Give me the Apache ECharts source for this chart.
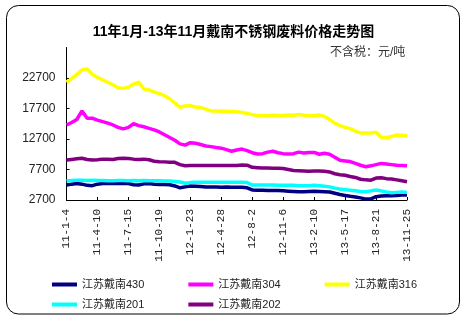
<!DOCTYPE html>
<html>
<head>
<meta charset="utf-8">
<script src="https://cdn.jsdelivr.net/npm/echarts@6/dist/echarts.min.js"></script>
<style>html,body{margin:0;padding:0;background:#fff}#c{width:467px;height:322px}</style>
</head>
<body>
<div id="c"></div>
<script>
// Category axis: one sample every 16 days from 2011-01-04 to 2013-11-25
var startDate = [2011, 0, 4];
var stepDays = 16;
var pointCount = 67;
var tickLabels = ['11-1-4','11-4-10','11-7-15','11-10-19','12-1-23','12-4-28','12-8-2','12-11-6','13-2-10','13-5-17','13-8-21','13-11-25'];

var seriesNames = ['江苏戴南430','江苏戴南304','江苏戴南316','江苏戴南201','江苏戴南202'];

var s430 = [5150,5300,5400,5300,5100,5050,5300,5400,5450,5400,5400,5450,5400,5200,5150,5350,5400,5300,5250,5250,
  5200,5000,4700,4850,5000,4950,4900,4850,4850,4850,4800,4850,4800,4800,4800,4700,4350,4300,4300,4250,
  4250,4250,4200,4150,4100,4050,4050,4100,4150,4100,4050,4000,3800,3600,3450,3300,3200,3050,2850,2900,
  3250,3350,3400,3400,3450,3500,3500];
var s304 = [15000,15400,15900,17300,16100,16100,15800,15550,15300,15000,14600,14350,14600,15200,14900,14700,14450,14200,13850,13400,
  12950,12500,11900,11700,12100,12000,11800,11550,11450,11300,11200,10950,10700,10900,11050,10800,10450,10250,10300,10550,
  10700,10450,10300,10250,10300,10550,10400,10500,10500,10200,10350,10200,9700,9200,9100,9000,8700,8400,8150,8300,
  8500,8700,8600,8500,8400,8350,8300];
var s316 = [22000,22600,23300,24000,24200,23300,22800,22400,22000,21600,21100,21000,21200,21700,22000,20900,20750,20400,20150,19800,
  19300,18600,17900,18100,18150,17950,17850,17600,17300,17300,17250,17250,17200,17150,17050,16900,16700,16550,16550,16500,
  16600,16550,16550,16650,16600,16700,16600,16550,16500,16650,16400,15900,15300,14900,14600,14400,14000,13700,13700,13700,
  13800,13000,12900,13100,13350,13300,13250];
var s201 = [5800,5900,5950,5950,5900,5950,5900,5900,5850,5850,5900,5900,5850,5900,5850,5900,5850,5850,5850,5800,
  5800,5750,5650,5450,5550,5600,5600,5600,5600,5600,5600,5600,5600,5600,5600,5550,5150,5150,5150,5150,
  5150,5100,5100,5100,5100,5050,5050,5050,5100,5050,4950,4850,4650,4500,4400,4300,4200,4100,4050,4200,
  4350,4200,4000,3900,3950,4000,3950];
var s202 = [9250,9350,9450,9550,9350,9250,9300,9400,9400,9350,9500,9550,9500,9400,9350,9400,9300,9050,8980,8950,
  8900,8880,8500,8320,8350,8350,8350,8350,8350,8350,8350,8350,8350,8350,8420,8400,8050,8000,7950,7950,
  7900,7900,7850,7700,7550,7500,7450,7400,7450,7450,7400,7300,7000,6850,6750,6550,6400,6100,6000,5950,
  6300,6350,6200,6150,6000,5850,5700];

var colors = ['#000080','#FF00FF','#FFFF00','#00FFFF','#800080'];

var categories = [];
for (var i = 0; i < pointCount; i++) {
  var d = new Date(Date.UTC(startDate[0], startDate[1], startDate[2] + i * stepDays));
  categories.push((d.getUTCFullYear() % 100) + '-' + (d.getUTCMonth() + 1) + '-' + d.getUTCDate());
}

var FONT = '"Liberation Sans", "Noto Sans CJK SC", sans-serif';
var dataSets = [s430, s304, s316, s201, s202];

var chart = echarts.init(document.getElementById('c'), null, {renderer: 'canvas'});
chart.setOption({
  animation: false,
  backgroundColor: '#fff',
  textStyle: {fontFamily: FONT},
  title: {
    text: '11年1月-13年11月戴南不锈钢废料价格走势图',
    left: 'center', top: 20,
    textStyle: {fontSize: 14, fontWeight: 'bold', color: '#000', fontFamily: FONT}
  },
  graphic: [
    {type: 'rect', shape: {x: 6.5, y: 5.5, width: 453, height: 308.5, r: 12}, style: {fill: 'none', stroke: '#000', lineWidth: 1}, z: -1},
    {type: 'text', left: 330, top: 47, style: {text: '不含税：元/吨', fontSize: 12, fill: '#333', fontFamily: FONT}}
  ],
  legend: [
    {data: seriesNames.slice(0, 3), left: 47, top: 274, itemWidth: 25, itemHeight: 4, itemGap: 44, icon: 'rect',
     textStyle: {fontSize: 11, color: '#222', fontFamily: FONT}},
    {data: seriesNames.slice(3), left: 47, top: 294, itemWidth: 25, itemHeight: 4, itemGap: 44, icon: 'rect',
     textStyle: {fontSize: 11, color: '#222', fontFamily: FONT}}
  ],
  grid: {left: 66.5, right: 60, top: 47.5, bottom: 122},
  xAxis: {
    type: 'category', boundaryGap: false, data: categories,
    axisLine: {lineStyle: {color: '#000', width: 1}},
    axisTick: {inside: true, length: 3, interval: 5, lineStyle: {color: '#000'}},
    axisLabel: {interval: 5, rotate: 90, fontSize: 11, color: '#222', margin: 9, fontFamily: '"Liberation Mono", monospace'},
    splitLine: {show: false}
  },
  yAxis: {
    type: 'value', min: 2700, max: 27700, interval: 5000,
    axisLine: {show: true, lineStyle: {color: '#000', width: 1}},
    axisTick: {show: true, inside: true, length: 3, lineStyle: {color: '#000'}},
    axisLabel: {fontSize: 12, color: '#222', margin: 11, showMaxLabel: false, fontFamily: FONT,
      formatter: function (v) { return String(v); }},
    splitLine: {show: false}
  },
  series: seriesNames.map(function (n, k) {
    return {
      name: n, type: 'line', data: dataSets[k], showSymbol: false, symbol: 'none',
      lineStyle: {width: 3.5, color: colors[k]}, itemStyle: {color: colors[k]},
      z: 2 + k
    };
  })
});
</script>
</body>
</html>
